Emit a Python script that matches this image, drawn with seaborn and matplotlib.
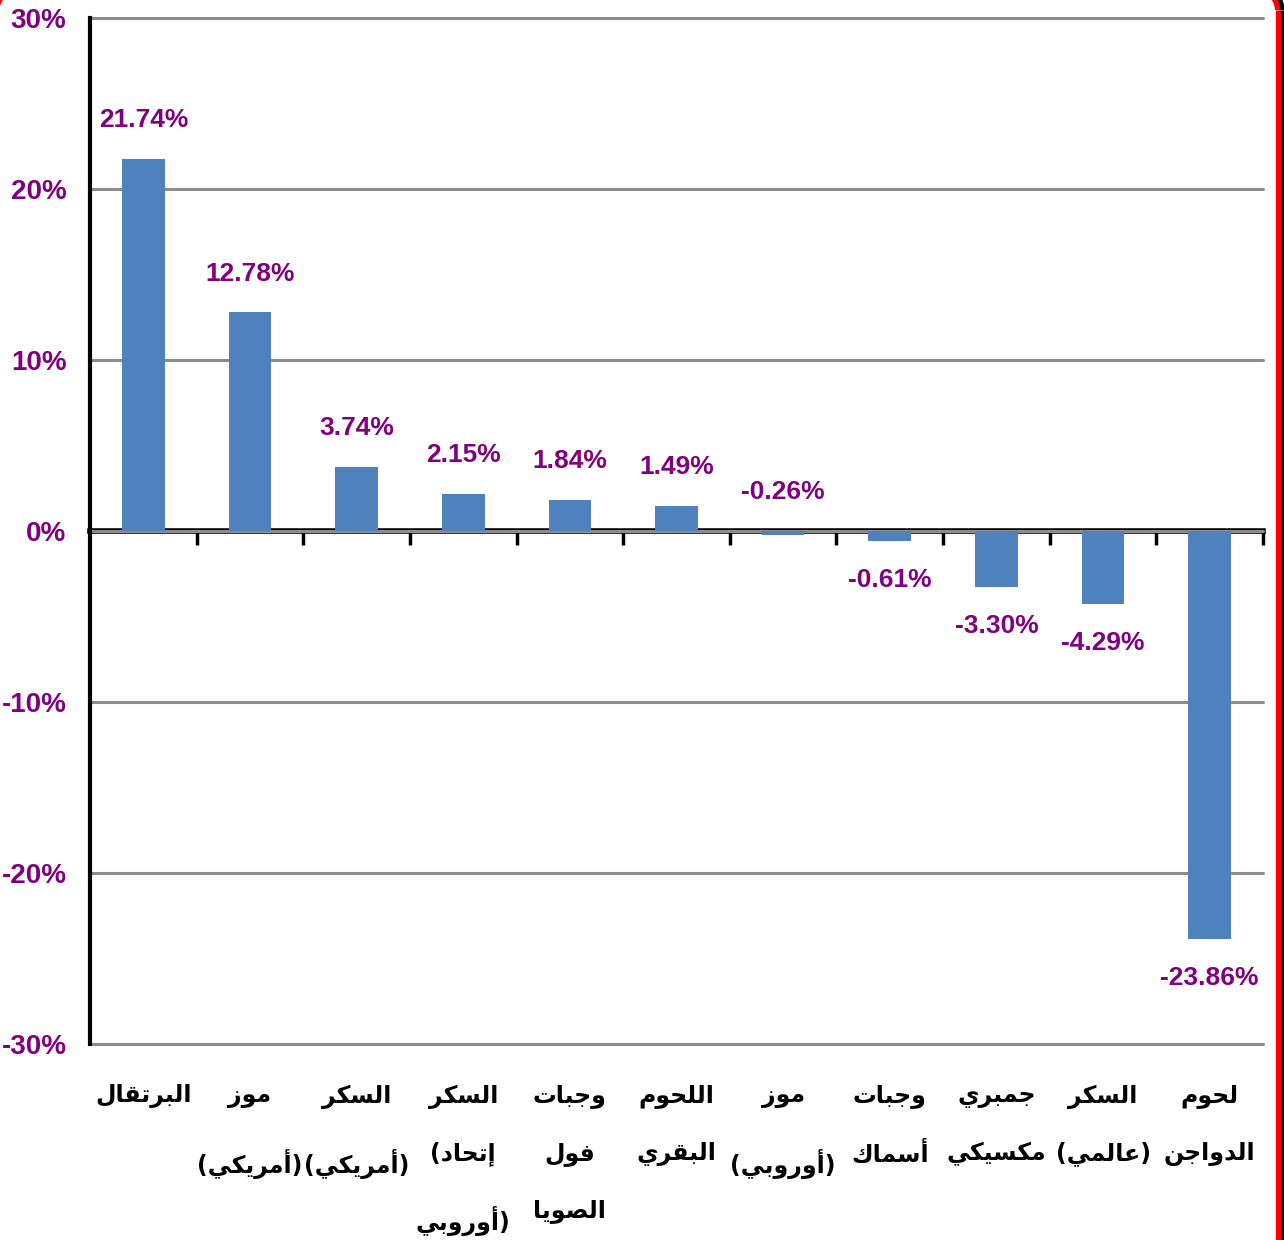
import numpy as np
import pandas as pd
import matplotlib
matplotlib.use("Agg")
import matplotlib.pyplot as plt
from matplotlib import font_manager
from matplotlib.lines import Line2D
from matplotlib.patches import Arc
import seaborn as sns

# ==========================================
# 데이터
# ==========================================
products = [
    "البرتقال",
    "موز\n(أمريكي)",
    "السكر\n(أمريكي)",
    "السكر\n(إتحاد\nأوروبي)",
    "وجبات\nفول\nالصويا",
    "اللحوم\nالبقري",
    "موز\n(أوروبي)",
    "وجبات\nأسماك",
    "جمبري\nمكسيكي",
    "السكر\n(عالمي)",
    "لحوم\nالدواجن",
]
changes = [21.74, 12.78, 3.74, 2.15, 1.84, 1.49, -0.26, -0.61, -3.30, -4.29, -23.86]
y_ticks = [-30, -20, -10, 0, 10, 20, 30]

BAR_COLOR = "#4F81BD"
LABEL_COLOR = "#800080"

# ==========================================
# 아랍어 글자 모양 변환 (matplotlib은 shaping/RTL 미지원)
# ==========================================
# (isolated, final, initial, medial)
FORMS = {
    "ا": (0xFE8D, 0xFE8E, None, None),
    "أ": (0xFE83, 0xFE84, None, None),
    "إ": (0xFE87, 0xFE88, None, None),
    "ب": (0xFE8F, 0xFE90, 0xFE91, 0xFE92),
    "ت": (0xFE95, 0xFE96, 0xFE97, 0xFE98),
    "ج": (0xFE9D, 0xFE9E, 0xFE9F, 0xFEA0),
    "ح": (0xFEA1, 0xFEA2, 0xFEA3, 0xFEA4),
    "د": (0xFEA9, 0xFEAA, None, None),
    "ر": (0xFEAD, 0xFEAE, None, None),
    "ز": (0xFEAF, 0xFEB0, None, None),
    "س": (0xFEB1, 0xFEB2, 0xFEB3, 0xFEB4),
    "ص": (0xFEB9, 0xFEBA, 0xFEBB, 0xFEBC),
    "ع": (0xFEC9, 0xFECA, 0xFECB, 0xFECC),
    "ف": (0xFED1, 0xFED2, 0xFED3, 0xFED4),
    "ق": (0xFED5, 0xFED6, 0xFED7, 0xFED8),
    "ك": (0xFED9, 0xFEDA, 0xFEDB, 0xFEDC),
    "ل": (0xFEDD, 0xFEDE, 0xFEDF, 0xFEE0),
    "م": (0xFEE1, 0xFEE2, 0xFEE3, 0xFEE4),
    "ن": (0xFEE5, 0xFEE6, 0xFEE7, 0xFEE8),
    "و": (0xFEED, 0xFEEE, None, None),
    "ي": (0xFEF1, 0xFEF2, 0xFEF3, 0xFEF4),
}
LAM_ALEF = {"ا": (0xFEFB, 0xFEFC), "أ": (0xFEF7, 0xFEF8), "إ": (0xFEF9, 0xFEFA)}


def shape_word(word):
    out = []
    i = 0
    n = len(word)
    while i < n:
        ch = word[i]
        if ch not in FORMS:
            out.append(ch)
            i += 1
            continue
        prev = word[i - 1] if i > 0 else ""
        joins_prev = prev in FORMS and FORMS[prev][2] is not None
        nxt = word[i + 1] if i + 1 < n else ""
        if ch == "ل" and nxt in LAM_ALEF:
            iso, fin = LAM_ALEF[nxt]
            out.append(chr(fin if joins_prev else iso))
            i += 2
            continue
        joins_next = FORMS[ch][2] is not None and nxt in FORMS
        iso, fin, ini, med = FORMS[ch]
        if joins_prev and joins_next:
            out.append(chr(med))
        elif joins_prev:
            out.append(chr(fin))
        elif joins_next:
            out.append(chr(ini))
        else:
            out.append(chr(iso))
        i += 1
    return "".join(reversed(out))


def shape_line(line):
    # 엑셀처럼 LTR 문단: 괄호는 제자리, 아랍어 부분만 뒤집기
    core = line.strip("()")
    pre = line[:len(line) - len(line.lstrip("("))]
    post = line[len(line.rstrip(")")):]
    return pre + shape_word(core) + post


def shape(text):
    return "\n".join(shape_line(l) for l in text.split("\n"))


# ==========================================
# 폰트
# ==========================================
sns.set_style("white")
installed = {f.name for f in font_manager.fontManager.ttflist}
num_font = next(n for n in ["Liberation Sans Narrow", "DejaVu Sans Condensed", "Liberation Sans"]
                if n in installed)
plt.rcParams["font.family"] = ["DejaVu Sans"]

# ==========================================
# 그래프
# ==========================================
df = pd.DataFrame({"product": [shape(p) for p in products], "change": changes})

W, H = 1284, 1240
fig = plt.figure(figsize=(W / 100, H / 100), dpi=100)
ax = fig.add_axes([90 / W, 196 / H, 1173 / W, 1026 / H])

sns.barplot(data=df, x="product", y="change", color=BAR_COLOR, width=0.4,
            saturation=1, linewidth=0, ax=ax, zorder=3)

ax.set_ylim(-30, 30)
ax.set_xlim(-0.5, len(products) - 0.5)
ax.set_xlabel("")
ax.set_ylabel("")

# 격자선
ax.set_yticks(y_ticks)
ax.set_yticklabels([f"{t}%" for t in y_ticks])
ax.yaxis.grid(True, color="#8c8c8c", linewidth=2.2)
ax.set_axisbelow(True)
for gl in ax.get_ygridlines():
    gl.set_clip_on(False)

for side in ["top", "right", "bottom"]:
    ax.spines[side].set_visible(False)
ax.spines["left"].set_linewidth(3)
ax.spines["left"].set_color("black")
ax.spines["left"].set_zorder(5)

ax.tick_params(axis="y", direction="out", length=8, width=3, color="black",
               pad=9, labelcolor=LABEL_COLOR)
for lbl in ax.get_yticklabels():
    lbl.set_fontfamily(num_font)
    lbl.set_fontweight("bold")
    lbl.set_fontsize(20)

# 아래 범주 라벨
ax.tick_params(axis="x", length=0, pad=29)
for lbl in ax.get_xticklabels():
    lbl.set_fontweight("bold")
    lbl.set_fontsize(17)
    lbl.set_linespacing(2.7)
    lbl.set_color("black")
    lbl.set_verticalalignment("top")

# 0% 기준선 + 구분 눈금
zero_ax = ax.secondary_xaxis(0.5)
zero_ax.set_alignment("bottom")
zero_ax.spines["bottom"].set_linewidth(4)
zero_ax.spines["bottom"].set_color("black")
zero_ax.spines["top"].set_visible(False)
zero_ax.set_xticks(np.arange(0.5, len(products), 1.0))
zero_ax.set_xticklabels([])
zero_ax.tick_params(axis="x", direction="out", length=10, width=2.5, color="black")

# 막대 끝 숫자
for p, v in zip(ax.patches, changes):
    above = v > -0.5
    y = max(v, 0) if above else v
    ax.annotate(f"{v:.2f}%", (p.get_x() + p.get_width() / 2, y),
                xytext=(0, 28 if above else -28), textcoords="offset points",
                ha="center", va="center", color=LABEL_COLOR,
                fontsize=19, fontweight="bold", fontfamily=num_font)

# 슬라이드 테두리 (빨간 둥근 테두리 + 검은 그림자), 픽셀 -> figure 좌표


def fx(px):
    return px / W


def fy(py):
    return 1 - py / H


r = 20
for dx, col in [(4.5, "black"), (0, "red")]:
    xr = 1277.5 + dx
    fig.add_artist(Line2D([fx(xr), fx(xr)], [fy(10), fy(H + 10)], color=col,
                          linewidth=3.8, transform=fig.transFigure, clip_on=False,
                          solid_capstyle="butt"))
    fig.add_artist(Arc((fx(xr - r), fy(10)), 2 * r / W, 2 * r / H, theta1=0, theta2=90,
                       color=col, linewidth=3.8, transform=fig.transFigure, clip_on=False))
fig.add_artist(Arc((fx(17), fy(10)), 2 * r / W, 2 * r / H, theta1=90, theta2=180,
                   color="red", linewidth=3.8, transform=fig.transFigure, clip_on=False))

fig.savefig("out.png", dpi=100, facecolor="white")
